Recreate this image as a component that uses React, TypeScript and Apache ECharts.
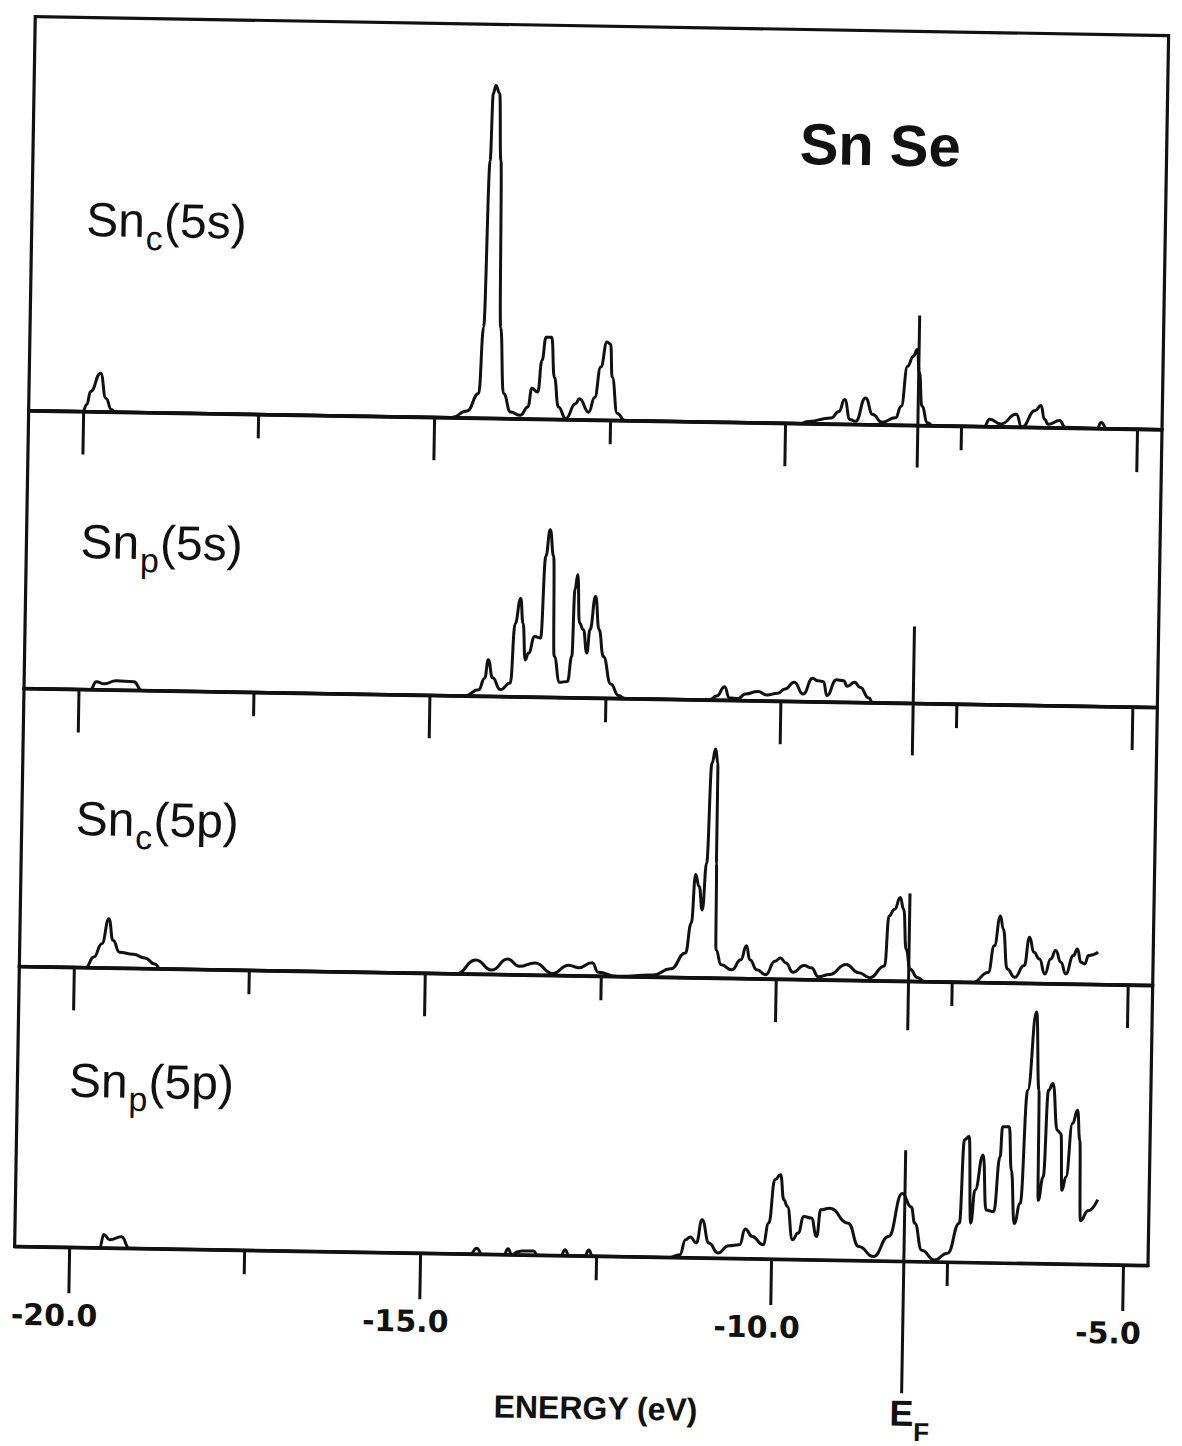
import React, { useEffect, useRef } from "react";
import * as echarts from "echarts";

// ---------- data (energy in eV, DOS in arbitrary units) ----------
const ENERGY_MIN = -20.776;
const ENERGY_MAX = -4.645;
const FERMI = -8.12;
const MAJOR_TICKS = [-20, -15, -10, -5];
const MAJOR_LABELS = ["-20.0", "-15.0", "-10.0", "-5.0"];
const MINOR_TICKS = [-17.5, -12.5, -7.5];

const snC5s: number[][] = [
  [-20.776, 0], [-20.006, 0], [-19.95, 7], [-19.9, 20], [-19.76, 38.6], [-19.68, 13.7], [-19.6, 2.5], [-19.55, 0],
  [-14.755, 0], [-14.54, 7], [-14.376, 24.6], [-14.322, 91], [-14.269, 257.7], [-14.24, 324.8], [-14.204, 332.8],
  [-14.149, 325], [-14.116, 258], [-14.08, 91.3], [-14.024, 25], [-13.918, 6.5], [-13.78, 3.4], [-13.673, 12],
  [-13.621, 30.6], [-13.536, 27], [-13.484, 58.6], [-13.43, 82], [-13.35, 82], [-13.304, 42.2], [-13.239, 12.4],
  [-13.132, 1], [-12.996, 16], [-12.942, 20.9], [-12.806, 7.7], [-12.726, 22.6], [-12.645, 53], [-12.563, 78.3],
  [-12.509, 76], [-12.482, 43.4], [-12.4, 7], [-12.291, 0],
  [-9.786, 0], [-9.677, 2.2], [-9.356, 6], [-9.247, 12.6], [-9.167, 24.6], [-9.087, 4.7], [-9.006, 3.1],
  [-8.871, 26.6], [-8.764, 10.1], [-8.63, 2.6], [-8.441, 7.2], [-8.361, 19], [-8.281, 59], [-8.2, 69.1],
  [-8.146, 75.9], [-8.11, 53], [-8.067, 19.3], [-7.984, 2.8], [-7.904, 0],
  [-7.179, 0], [-7.099, 7.3], [-6.939, 2.8], [-6.721, 12.8], [-6.641, 0], [-6.453, 17], [-6.373, 22],
  [-6.319, 8.3], [-6.267, 3.4], [-6.103, 7.2], [-6.024, 0.7], [-5.567, 0], [-5.513, 6.1], [-5.431, 0], [-4.645, 0],
];

const snP5s: number[][] = [
  [-20.776, 0], [-19.83, 0], [-19.75, 8], [-19.635, 6], [-19.467, 9.3], [-19.214, 8.6], [-19.1, 0],
  [-14.503, 0], [-14.308, 6.3], [-14.223, 18], [-14.177, 36.5], [-14.111, 18.5], [-13.999, 6.9], [-13.858, 13.6],
  [-13.803, 73], [-13.729, 98.3], [-13.69, 73.5], [-13.651, 36.9], [-13.606, 43.9], [-13.522, 60.6],
  [-13.438, 59.1], [-13.382, 141], [-13.325, 167.5], [-13.27, 141], [-13.241, 41.1], [-13.157, 15.1],
  [-13.045, 16.2], [-12.989, 41.3], [-12.96, 108], [-12.922, 123], [-12.888, 74.8], [-12.831, 68.2],
  [-12.776, 45], [-12.736, 68.3], [-12.664, 101.7], [-12.607, 68.4], [-12.54, 41.8], [-12.428, 14.3],
  [-12.316, 3], [-12.22, 0],
  [-11.02, 0], [-10.918, 4], [-10.806, 13.4], [-10.74, 2.5], [-10.612, 1.9], [-10.511, 6.7], [-10.331, 9.2],
  [-10.205, 6], [-10.05, 7.9], [-9.948, 12.3], [-9.818, 19.1], [-9.688, 7.5], [-9.557, 23.4], [-9.48, 21.1],
  [-9.401, 20.2], [-9.35, 6.3], [-9.219, 22.4], [-9.115, 21.5], [-9.063, 16], [-8.958, 20.1], [-8.881, 15.2],
  [-8.751, 4.6], [-8.698, 0], [-4.645, 0],
];

const snC5p: number[][] = [
  [-20.776, 0], [-19.831, 0], [-19.719, 10.7], [-19.607, 24.2], [-19.512, 49.3], [-19.45, 27.7], [-19.355, 16],
  [-19.159, 14.1], [-18.99, 10.6], [-18.85, 4.6], [-18.766, 0],
  [-14.559, 0], [-14.28, 14.2], [-14.055, 4.3], [-13.83, 15.6], [-13.662, 8.5], [-13.437, 12.2], [-13.186, 1.9],
  [-12.96, 10.5], [-12.821, 8.1], [-12.624, 13.4], [-12.54, 4], [-12.27, 0], [-11.761, 2], [-11.506, 8.5],
  [-11.302, 24.5], [-11.225, 54.5], [-11.175, 103.3], [-11.122, 91.3], [-11.072, 68], [-11.021, 114.9],
  [-10.969, 214.9], [-10.919, 229], [-10.884, 215], [-10.881, 115], [-10.868, 28.3], [-10.791, 13.4],
  [-10.638, 8.6], [-10.511, 18.8], [-10.435, 32.9], [-10.383, 19], [-10.281, 9.1], [-10.154, 4.3],
  [-10.027, 17.8], [-9.948, 21.3], [-9.871, 16.4], [-9.766, 7.1], [-9.61, 14.1], [-9.506, 11.9], [-9.403, 3],
  [-9.247, 5.6], [-9.012, 15.9], [-8.83, 7.8], [-8.673, 3], [-8.464, 14.9], [-8.413, 65], [-8.334, 71.8],
  [-8.257, 83.6], [-8.205, 71.9], [-8.162, 32], [-8.1, 12.1], [-7.995, 4], [-7.89, 0],
  [-7.204, 0], [-6.988, 10.3], [-6.908, 37], [-6.827, 67], [-6.784, 53.9], [-6.72, 14], [-6.612, 5.8],
  [-6.478, 17.7], [-6.408, 46.2], [-6.343, 31.2], [-6.263, 24.6], [-6.182, 9.7], [-6.102, 24.8], [-6.033, 33.2],
  [-5.956, 21.7], [-5.886, 10.1], [-5.78, 28.5], [-5.725, 35.3], [-5.672, 22.1], [-5.618, 20.4], [-5.564, 28.8],
  [-5.429, 32.4],
];

const snP5p: number[][] = [
  [-20.776, 0], [-19.566, 0], [-19.51, 13.5], [-19.426, 8.3], [-19.257, 11.5], [-19.145, 0],
  [-14.288, 0], [-14.203, 6], [-14.12, 0], [-13.812, 0], [-13.755, 6], [-13.7, 0], [-13.615, 3], [-13.56, 4],
  [-13.391, 4], [-13.335, 0], [-12.999, 0], [-12.943, 6], [-12.887, 0], [-12.663, 0], [-12.606, 6], [-12.551, 0],
  [-11.462, 0], [-11.309, 2.9], [-11.231, 18], [-11.165, 20.8], [-11.077, 14.9], [-11.001, 38.3], [-10.898, 15.1],
  [-10.769, 5.2], [-10.615, 12.6], [-10.462, 13.8], [-10.385, 29.6], [-10.282, 22.3], [-10.128, 14.2],
  [-10.051, 36], [-9.974, 79.3], [-9.894, 84.4], [-9.842, 59.5], [-9.79, 52.9], [-9.71, 19.7], [-9.632, 26.5],
  [-9.553, 43.2], [-9.447, 41.7], [-9.367, 23.4], [-9.315, 50.1], [-9.185, 51.9], [-8.922, 37.2], [-8.764, 14],
  [-8.553, 4.2], [-8.343, 24.5], [-8.159, 67.7], [-8.027, 54.5], [-7.973, 38.2], [-7.869, 11.4], [-7.685, 1.8],
  [-7.5, 8.9], [-7.339, 39.1], [-7.286, 122.5], [-7.22, 125.9], [-7.178, 39.3], [-7.124, 72.6], [-7.016, 107.7],
  [-6.963, 52.7], [-6.855, 51.1], [-6.775, 106.1], [-6.747, 136.1], [-6.651, 136.2], [-6.612, 92.9],
  [-6.559, 39.6], [-6.479, 59.7], [-6.398, 173], [-6.29, 251.5], [-6.237, 173.3], [-6.225, 63.3], [-6.157, 86.7],
  [-6.102, 173.4], [-6.039, 180.2], [-5.968, 133.6], [-5.914, 130.3], [-5.888, 73.7], [-5.834, 87],
  [-5.753, 140.5], [-5.683, 153.9], [-5.645, 124], [-5.618, 43.6], [-5.51, 53.7], [-5.376, 64.9],
];

const PANEL_SUBS = ["c", "p", "c", "p"];
const PANEL_ORBITALS = ["5s", "5s", "5p", "5p"];
const PANEL_DATA = [snC5s, snP5s, snC5p, snP5p];

// ---------- layout & style ----------
const INK = "#111";
const BOX_LEFT = 23.5;
const BOX_RIGHT = 25;
const PANEL_TOPS = [26, 420, 698, 976];
const PANEL_BOTTOMS = [420, 698, 976, 1256];
const FERMI_UP = [110, 77, 88, 111];
const FERMI_DOWN = [42, 52, 49, 132];
const LABEL_POS = [[78, 228], [77.5, 550], [77.5, 827], [75, 1089]];

function buildOption(): any {
  const grids: any[] = [];
  const xAxes: any[] = [];
  const yAxes: any[] = [];
  const series: any[] = [];
  const tickStyle = { color: INK, width: 3 };

  for (let i = 0; i < 4; i++) {
    const h = PANEL_BOTTOMS[i] - PANEL_TOPS[i];
    grids.push({
      left: BOX_LEFT, right: BOX_RIGHT, top: PANEL_TOPS[i], height: h,
      show: true, borderColor: INK, borderWidth: 3.2, backgroundColor: "transparent",
    });
    const base = {
      type: "value", gridIndex: i, min: ENERGY_MIN, max: ENERGY_MAX, position: "bottom",
      splitLine: { show: false },
    };
    const last = i === 3;
    xAxes.push({
      ...base,
      axisLine: { show: true, onZero: false, lineStyle: { color: INK, width: 3.2 } },
      axisTick: { show: true, customValues: MAJOR_TICKS, length: last ? 46 : 43, lineStyle: tickStyle },
      axisLabel: last
        ? {
            show: true, customValues: MAJOR_TICKS,
            formatter: (v: number) => {
              const k = MAJOR_TICKS.findIndex((m) => Math.abs(m - v) < 1e-6);
              return k >= 0 ? MAJOR_LABELS[k] : "";
            },
            margin: 53, color: INK, fontFamily: "DejaVu Sans", fontWeight: "bold", fontSize: 30,
            padding: [0, 28, 0, 0],
          }
        : { show: false },
    });
    xAxes.push({
      ...base,
      axisLine: { show: false },
      axisTick: { show: true, customValues: MINOR_TICKS, length: 24, lineStyle: tickStyle },
      axisLabel: { show: false },
    });
    yAxes.push({ type: "value", gridIndex: i, min: 0, max: h, show: false });

    series.push({
      type: "line", xAxisIndex: 2 * i, yAxisIndex: i, data: PANEL_DATA[i],
      symbol: "none", smooth: 0.5, smoothMonotone: "x",
      lineStyle: { color: INK, width: 3 }, z: 3, silent: true,
    });
    series.push({
      type: "line", xAxisIndex: 2 * i, yAxisIndex: i,
      data: [[FERMI, -FERMI_DOWN[i]], [FERMI, FERMI_UP[i]]],
      symbol: "none", clip: false, lineStyle: { color: INK, width: 3 }, z: 4, silent: true,
    });
  }

  // Fermi level label under the bottom panel
  xAxes.push({
    type: "value", gridIndex: 3, min: ENERGY_MIN, max: ENERGY_MAX, position: "bottom",
    axisLine: { show: false }, axisTick: { show: false }, splitLine: { show: false },
    axisLabel: {
      show: true, customValues: [FERMI], formatter: () => "{e|E}{f|F}", margin: 134,
      padding: [0, 0, 0, 16],
      rich: {
        e: { fontSize: 36, lineHeight: 36, fontWeight: "bold", fontFamily: "Liberation Sans", color: INK },
        f: { fontSize: 26, lineHeight: 26, fontWeight: "bold", fontFamily: "Liberation Sans", color: INK, padding: [37, 0, 0, 0] },
      },
    },
  });

  const graphic: any[] = [];
  for (let i = 0; i < 4; i++) {
    graphic.push({
      type: "text", x: LABEL_POS[i][0], y: LABEL_POS[i][1], silent: true,
      style: {
        text: `{a|Sn}{b|${PANEL_SUBS[i]}}{a|(${PANEL_ORBITALS[i]})}`,
        textAlign: "left", textVerticalAlign: "middle", align: "left", verticalAlign: "middle",
        rich: {
          a: { fontSize: 48, lineHeight: 48, fontFamily: "Liberation Sans", fill: INK, color: INK },
          b: { fontSize: 34, lineHeight: 34, fontFamily: "Liberation Sans", fill: INK, color: INK, padding: [35, 1, 0, 1] },
        },
      },
    });
  }
  graphic.push({
    type: "text", x: 790, y: 140, silent: true,
    style: {
      text: "Sn Se", fontSize: 58, fontWeight: "bold", fontFamily: "Liberation Sans", fill: INK,
      textAlign: "left", textVerticalAlign: "middle", align: "left", verticalAlign: "middle",
    },
  });
  graphic.push({
    type: "text", x: 607, y: 1408, silent: true,
    style: {
      text: "ENERGY (eV)", fontSize: 32, fontWeight: "bold", fontFamily: "Liberation Sans", fill: INK,
      textAlign: "center", textVerticalAlign: "middle", align: "center", verticalAlign: "middle",
    },
  });

  return {
    animation: false,
    backgroundColor: "#ffffff",
    grid: grids,
    xAxis: xAxes,
    yAxis: yAxes,
    series,
    graphic,
  };
}

export default function App() {
  const ref = useRef<HTMLDivElement>(null);
  useEffect(() => {
    const chart = echarts.init(ref.current as HTMLDivElement, undefined, { renderer: "svg" });
    chart.setOption(buildOption());
    return () => chart.dispose();
  }, []);
  return (
    <div style={{ position: "fixed", left: 0, top: 0, width: 1182, height: 1446, overflow: "hidden", background: "#fff" }}>
      <div
        ref={ref}
        style={{ width: 1182, height: 1446, transform: "rotate(0.96deg)", transformOrigin: "591px 723px" }}
      />
    </div>
  );
}
